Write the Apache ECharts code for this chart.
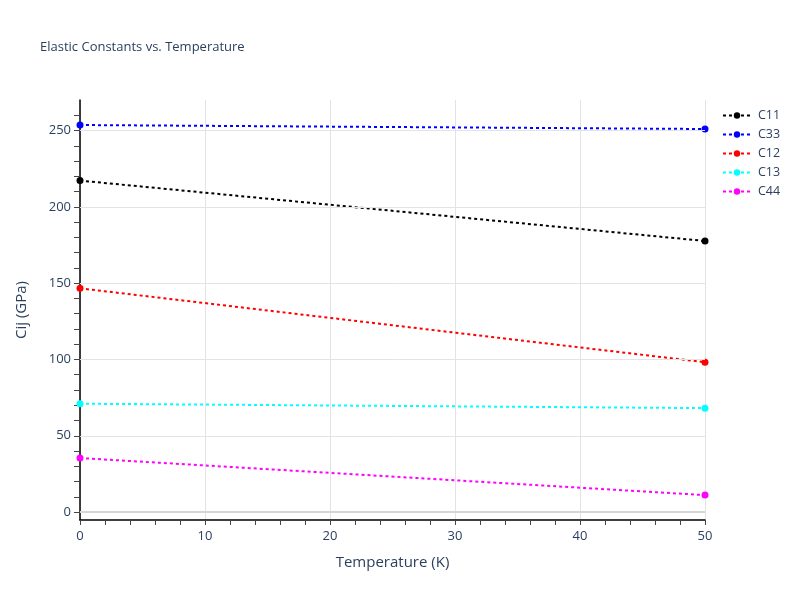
<!DOCTYPE html>
<html>
<head>
<meta charset="utf-8">
<script src="https://cdn.jsdelivr.net/npm/echarts@6/dist/echarts.min.js"></script>
<style>html,body{margin:0;padding:0;background:#fff}#c{width:800px;height:600px}</style>
</head>
<body>
<div id="c"></div>
<script>
const temperatures = [0, 50];
const seriesNames = ['C11', 'C33', 'C12', 'C13', 'C44'];
const C11 = [217.2, 177.6];
const C33 = [253.6, 251.0];
const C12 = [146.6, 98.2];
const C13 = [71.0, 68.1];
const C44 = [35.4, 11.1];
const seriesValues = [C11, C33, C12, C13, C44];
const colors = ['#000000', '#0000ff', '#ff0000', '#00ffff', '#ff00ff'];
const yLabelTicks = [0, 50, 100, 150, 200, 250];
const yMinorTicks = [0, 10, 20, 30, 40, 50, 60, 70, 80, 90, 100, 110, 120, 130, 140, 150, 160, 170, 180, 190, 200, 210, 220, 230, 240, 250, 260];
const yRange = [-5.2, 270];
const xRange = [0, 50];

const textColor = '#2a3f5f';
const font = '"Open Sans", "Liberation Sans", Arial, sans-serif';

const chart = echarts.init(document.getElementById('c'), null, {renderer: 'canvas'});

const series = seriesNames.map((name, i) => ({
  name: name,
  type: 'line',
  data: temperatures.map((t, j) => [t, seriesValues[i][j]]),
  symbol: 'circle',
  symbolSize: 7,
  showSymbol: true,
  clip: false,
  z: 3,
  itemStyle: {color: colors[i]},
  lineStyle: {color: colors[i], width: 2, type: [3, 3]},
  emphasis: {disabled: true},
  animation: false
}));

series.unshift({
  name: '_grid',
  type: 'line',
  data: [],
  z: 1,
  silent: true,
  animation: false,
  markLine: {
    silent: true,
    symbol: ['none', 'none'],
    label: {show: false},
    animation: false,
    data: yLabelTicks.map(v => ({
      yAxis: v,
      lineStyle: {color: v === 0 ? '#d6d6d6' : '#e3e3e3', width: v === 0 ? 2 : 1, type: 'solid'}
    }))
  }
});

chart.setOption({
  animation: false,
  backgroundColor: '#ffffff',
  title: {
    text: 'Elastic Constants vs. Temperature',
    left: 35,
    top: 36,
    textStyle: {fontFamily: font, fontSize: 13, fontWeight: 'normal', color: textColor}
  },
  legend: {
    orient: 'vertical',
    left: 717,
    top: 104,
    itemWidth: 28,
    itemHeight: 8,
    itemGap: 6,
    data: seriesNames,
    textStyle: {fontFamily: font, fontSize: 12.5, color: textColor, padding: [0, 0, 0, 2]}
  },
  grid: {left: 80, right: 95, top: 100, bottom: 80, containLabel: false},
  xAxis: {
    type: 'value',
    min: xRange[0],
    max: xRange[1],
    interval: 10,
    name: 'Temperature (K)',
    nameLocation: 'middle',
    nameGap: 35,
    nameTextStyle: {fontFamily: font, fontSize: 15, color: textColor},
    axisLine: {show: true, onZero: false, lineStyle: {color: '#000', width: 1.5}},
    axisTick: {show: true, inside: false, length: 5, lineStyle: {color: '#444'}},
    minorTick: {show: true, splitNumber: 5, length: 5, lineStyle: {color: '#444'}},
    axisLabel: {fontFamily: font, fontSize: 13, color: textColor, margin: 10},
    splitLine: {show: true, lineStyle: {color: '#e3e3e3', width: 1}}
  },
  yAxis: {
    type: 'value',
    min: yRange[0],
    max: yRange[1],
    name: 'Cij (GPa)',
    nameLocation: 'middle',
    nameGap: 51,
    nameTextStyle: {fontFamily: font, fontSize: 15, color: textColor},
    axisLine: {show: true, onZero: false, lineStyle: {color: '#000', width: 1.5}},
    axisTick: {show: true, inside: false, length: 6, lineStyle: {color: '#444'}, customValues: yMinorTicks},
    axisLabel: {fontFamily: font, fontSize: 13, color: textColor, margin: 9, customValues: yLabelTicks},
    splitLine: {show: false},
    minorTick: {show: false}
  },
  series: series
});
</script>
</body>
</html>
